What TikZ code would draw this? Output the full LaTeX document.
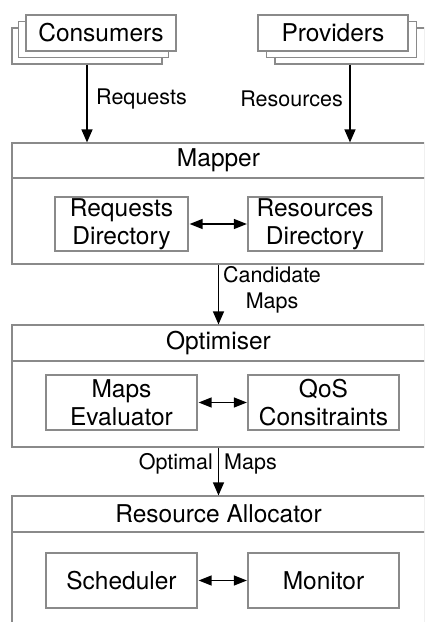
\documentclass[tikz,border=0pt]{standalone}
\usepackage{fontspec}
\setmainfont{TeX Gyre Heros}
\usetikzlibrary{arrows.meta}
\definecolor{boxgray}{HTML}{8A8A8A}
\begin{document}
\begin{tikzpicture}[x=1pt,y=-1pt,
  box/.style={draw=boxgray, line width=1.2pt, fill=white, inner sep=0pt,
    font=\fontsize{24.5}{28}\selectfont, align=center},
  lbl/.style={inner sep=2pt, font=\fontsize{21.5}{26}\selectfont, align=center},
  arr/.style={-{Triangle[length=13pt,width=11pt]}, line width=1.3pt, black},
  darr/.style={{Triangle[length=13pt,width=10pt]}-{Triangle[length=13pt,width=10pt]}, line width=1.3pt, black, shorten <=1pt, shorten >=0.5pt}]
\clip (0,0) rectangle (424,622);
\fill[white] (0,0) rectangle (424,622);
% stacked sources
\node[box, minimum width=150pt, minimum height=36pt] (cons3) at (87,46) {};
\node[box, minimum width=150pt, minimum height=36pt] (cons2) at (93.5,39.5) {};
\node[box, minimum width=150pt, minimum height=36pt] (cons) at (101,33) {Consumers};
\node[box, minimum width=150pt, minimum height=36pt] (prov3) at (350,46) {};
\node[box, minimum width=150pt, minimum height=36pt] (prov2) at (341.5,39.5) {};
\node[box, minimum width=150pt, minimum height=36pt] (prov) at (333,33) {Providers};
% Mapper
\node[box, minimum width=413pt, minimum height=35pt] (mapper) at (218.5,160.5) {Mapper};
\node[box, minimum width=413pt, minimum height=86pt] (mapperbody) at (218.5,221) {};
\node[box, minimum width=133pt, minimum height=54pt] (reqdir) at (121.5,224) {Requests\\Directory};
\node[box, minimum width=134pt, minimum height=54pt] (resdir) at (315,224) {Resources\\Directory};
% Optimiser
\node[box, minimum width=413pt, minimum height=36pt] (optimiser) at (218.5,343) {Optimiser};
\node[box, minimum width=413pt, minimum height=86pt] (optbody) at (218.5,404) {};
\node[box, minimum width=151pt, minimum height=55pt] (mapseval) at (121.5,402.5) {Maps\\Evaluator};
\node[box, minimum width=151pt, minimum height=55pt] (qos) at (323.5,402.5) {QoS\\Consitraints};
% Resource Allocator
\node[box, minimum width=413pt, minimum height=36pt] (ra) at (218.5,514) {Resource Allocator};
\node[box, minimum width=413pt, minimum height=108pt] (rabody) at (218.5,586) {};
\node[box, minimum width=151pt, minimum height=55pt] (sched) at (121.5,580.5) {Scheduler};
\node[box, minimum width=151pt, minimum height=55pt] (mon) at (323.5,580.5) {Monitor};
% connectors
\draw[arr] (cons3.south) -- (cons3.south |- mapper.north);
\draw[arr] (prov3.south) -- (prov3.south |- mapper.north);
\node[lbl, anchor=west] (lreq) at (94,99) {Requests};
\node[lbl, anchor=east] (lres) at (345,99) {Resources};
\draw[darr] (reqdir) -- (resdir);
\draw[arr] (mapperbody.south) -- (optimiser.north);
\node[lbl, anchor=west] (lcand) at (221,290) {Candidate\\Maps};
\draw[darr] (mapseval) -- (qos);
\draw[arr] (optbody.south) -- (ra.north);
\node[lbl, anchor=east] (lopt) at (215,464) {Optimal};
\node[lbl, anchor=west] (lmaps) at (222,464) {Maps};
\draw[darr] (sched) -- (mon);
\end{tikzpicture}
\end{document}
